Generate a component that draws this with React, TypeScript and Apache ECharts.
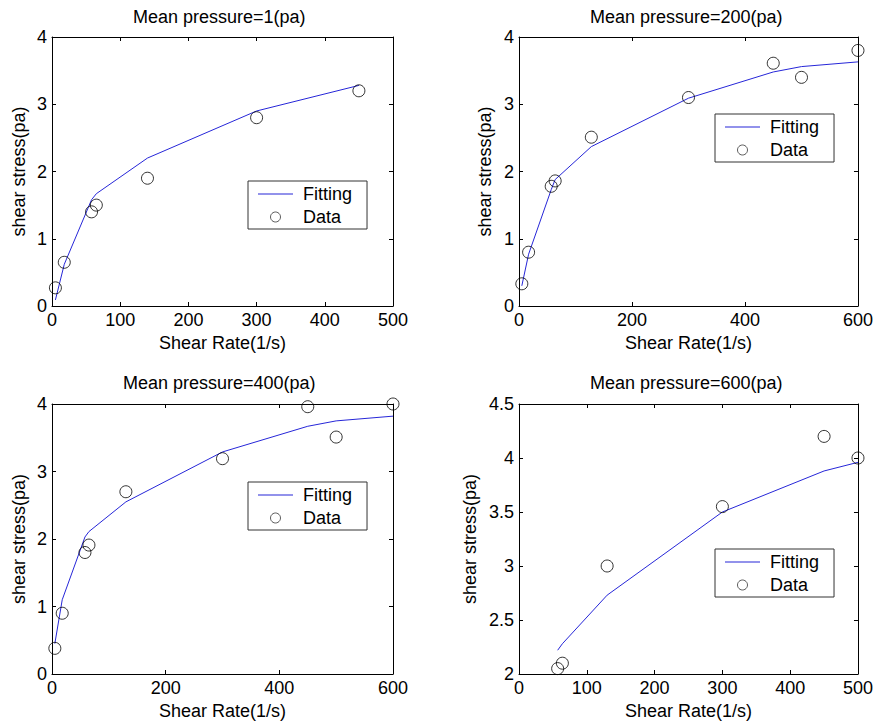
import React, { useEffect, useRef } from "react";
import * as echarts from "echarts";

const FONT = '"Liberation Sans", Arial, Helvetica, sans-serif';
const LINE_COLOR = "#2626d8";

// Panel titles
const titles = [
  "Mean pressure=1(pa)",
  "Mean pressure=200(pa)",
  "Mean pressure=400(pa)",
  "Mean pressure=600(pa)",
];

// Mean pressure = 1 pa
const rate1 = [5, 18, 58, 65, 140, 300, 450];
const stress1 = [0.27, 0.65, 1.4, 1.5, 1.9, 2.8, 3.2];
const fit1 = [0.09, 0.62, 1.58, 1.67, 2.2, 2.9, 3.28];

// Mean pressure = 200 pa
const rate2 = [5, 17, 57, 64, 128, 300, 450, 500, 600];
const stress2 = [0.33, 0.8, 1.78, 1.86, 2.51, 3.1, 3.61, 3.4, 3.8];
const fit2 = [0.3, 0.77, 1.73, 1.88, 2.37, 3.09, 3.48, 3.56, 3.63];

// Mean pressure = 400 pa
const rate3 = [5, 18, 58, 65, 130, 300, 450, 500, 600];
const stress3 = [0.38, 0.9, 1.8, 1.91, 2.7, 3.19, 3.96, 3.51, 4.0];
const fit3 = [0.45, 1.1, 2.03, 2.11, 2.55, 3.29, 3.67, 3.75, 3.82];

// Mean pressure = 600 pa
const rate4 = [57, 64, 130, 300, 450, 500];
const stress4 = [2.05, 2.1, 3.0, 3.55, 4.2, 4.0];
const fit4 = [2.22, 2.28, 2.73, 3.5, 3.88, 3.96];

// Axis ranges
const xRanges = [
  { min: 0, max: 500, interval: 100 },
  { min: 0, max: 600, interval: 200 },
  { min: 0, max: 600, interval: 200 },
  { min: 0, max: 500, interval: 100 },
];
const yRanges = [
  { min: 0, max: 4, interval: 1 },
  { min: 0, max: 4, interval: 1 },
  { min: 0, max: 4, interval: 1 },
  { min: 2, max: 4.5, interval: 0.5 },
];

const xName = "Shear Rate(1/s)";
const yName = "shear stress(pa)";

const rates = [rate1, rate2, rate3, rate4];
const stresses = [stress1, stress2, stress3, stress4];
const fits = [fit1, fit2, fit3, fit4];

// Layout (pixels)
const layout = [
  { grid: { left: 52, top: 37, width: 341, height: 269 }, titleLeft: 133, titleTop: 8, legendLeft: 248, legendTop: 181, yGap: 24 },
  { grid: { left: 519, top: 37, width: 341, height: 269 }, titleLeft: 590, titleTop: 8, legendLeft: 715, legendTop: 114, yGap: 25 },
  { grid: { left: 52, top: 404, width: 341, height: 270 }, titleLeft: 123, titleTop: 374, legendLeft: 248, legendTop: 482, yGap: 24 },
  { grid: { left: 519, top: 404, width: 341, height: 270 }, titleLeft: 590, titleTop: 374, legendLeft: 715, legendTop: 549, yGap: 40 },
];

function buildOption() {
  const axisLine = { show: true, onZero: false, lineStyle: { color: "#000", width: 1 } };
  const axisTick = { show: true, inside: true, length: 4, lineStyle: { color: "#000", width: 1 } };
  const labelStyle = { color: "#000", fontSize: 18, fontFamily: FONT };
  const grid: any[] = [];
  const title: any[] = [];
  const legend: any[] = [];
  const xAxis: any[] = [];
  const yAxis: any[] = [];
  const series: any[] = [];

  layout.forEach((L, i) => {
    grid.push({ ...L.grid, containLabel: false });
    title.push({
      text: titles[i],
      left: L.titleLeft,
      top: L.titleTop,
      padding: 0,
      textStyle: { color: "#000", fontSize: 18, fontWeight: "normal", fontFamily: FONT },
    });
    legend.push({
      left: L.legendLeft,
      top: L.legendTop,
      orient: "vertical",
      backgroundColor: "#fff",
      borderColor: "#333",
      borderWidth: 1,
      borderRadius: 0,
      padding: [4, 15, 3, 10],
      itemWidth: 35,
      itemHeight: 10,
      itemGap: 5,
      selectedMode: false,
      textStyle: { color: "#000", fontSize: 18, fontFamily: FONT, padding: [0, 0, 0, 5] },
      data: [
        { name: "Fitting", icon: "path://M0 0H35V1H0Z", itemStyle: { color: LINE_COLOR } },
        {
          name: "Data",
          icon: "circle",
          itemStyle: { color: "rgba(255,255,255,0)", borderColor: "#000", borderWidth: 0.8 },
        },
      ],
    });
    const xr = xRanges[i];
    const yr = yRanges[i];
    xAxis.push({
      type: "value",
      gridIndex: i,
      position: "bottom",
      min: xr.min,
      max: xr.max,
      interval: xr.interval,
      axisLine,
      axisTick,
      splitLine: { show: false },
      axisLabel: { ...labelStyle, margin: 5 },
      name: xName,
      nameLocation: "middle",
      nameGap: 28,
      nameTextStyle: labelStyle,
    });
    xAxis.push({
      type: "value",
      gridIndex: i,
      position: "top",
      min: xr.min,
      max: xr.max,
      interval: xr.interval,
      axisLine,
      axisTick,
      splitLine: { show: false },
      axisLabel: { show: false },
    });
    yAxis.push({
      type: "value",
      gridIndex: i,
      position: "left",
      min: yr.min,
      max: yr.max,
      interval: yr.interval,
      axisLine,
      axisTick,
      splitLine: { show: false },
      axisLabel: { ...labelStyle, margin: 5 },
      name: yName,
      nameLocation: "middle",
      nameGap: L.yGap,
      nameTextStyle: labelStyle,
    });
    yAxis.push({
      type: "value",
      gridIndex: i,
      position: "right",
      min: yr.min,
      max: yr.max,
      interval: yr.interval,
      axisLine,
      axisTick,
      splitLine: { show: false },
      axisLabel: { show: false },
    });
    series.push({
      type: "line",
      name: "Fitting",
      xAxisIndex: i * 2,
      yAxisIndex: i * 2,
      data: rates[i].map((r, j) => [r, fits[i][j]]),
      symbol: "none",
      lineStyle: { color: LINE_COLOR, width: 1 },
      itemStyle: { color: LINE_COLOR },
      z: 2,
    });
    series.push({
      type: "scatter",
      name: "Data",
      xAxisIndex: i * 2,
      yAxisIndex: i * 2,
      data: rates[i].map((r, j) => [r, stresses[i][j]]),
      symbol: "circle",
      symbolSize: 12,
      itemStyle: { color: "rgba(255,255,255,0)", borderColor: "#000", borderWidth: 1 },
      z: 3,
    });
  });

  return {
    animation: false,
    backgroundColor: "#fff",
    textStyle: { fontFamily: FONT },
    title,
    legend,
    grid,
    xAxis,
    yAxis,
    series,
  };
}

export default function App() {
  const ref = useRef<HTMLDivElement>(null);
  useEffect(() => {
    if (!ref.current) return;
    const chart = echarts.init(ref.current, undefined, { renderer: "svg" });
    chart.setOption(buildOption() as any);
    return () => chart.dispose();
  }, []);
  return (
    <div
      ref={ref}
      style={{ position: "absolute", left: 0, top: 0, width: 876, height: 725, background: "#fff" }}
    />
  );
}
